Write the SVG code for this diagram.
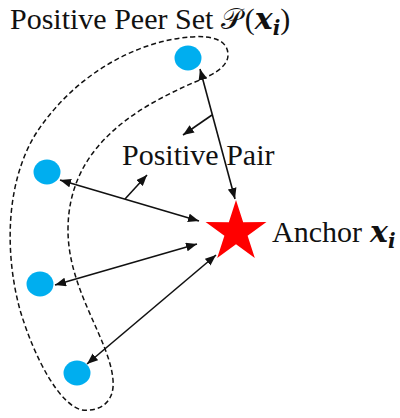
<svg xmlns="http://www.w3.org/2000/svg" width="400" height="418" viewBox="0 0 400 418">
<style>
  .t { font-family: "Liberation Serif", "Times New Roman", serif; font-size: 30px; fill: #111; }
  .bi { font-family: "DejaVu Serif", serif; font-weight: bold; font-style: italic; }
  .dot { fill: #00AEEF; }
  .arr { stroke: #111; stroke-width: 1.6; fill: none; }
</style>
<defs>
  <marker id="ah" viewBox="0 0 10 8" refX="10" refY="4" markerWidth="11" markerHeight="9" markerUnits="userSpaceOnUse" orient="auto-start-reverse">
    <path d="M0,0 L10,4 L0,8 z" fill="#111"/>
  </marker>
</defs>
<rect width="400" height="418" fill="#fff"/>
<g id="peer-set">
  <path d="M 190,37 C 212,35 228,40 228,55 C 228,68 210,76 195,82 C 130,110 68,150 68,230 C 68,290 110,340 113,380 C 115,402 100,412 82,410 C 60,405 35,360 20,310 C 5,255 5,185 35,135 C 70,80 130,42 190,37 Z" fill="none" stroke="#111" stroke-width="1.5" stroke-dasharray="5,3"/>
</g>
<g id="connectors">
  <line class="arr" x1="200" y1="69" x2="235" y2="199" marker-start="url(#ah)" marker-end="url(#ah)"/>
  <line class="arr" x1="60" y1="180" x2="199" y2="221" marker-start="url(#ah)" marker-end="url(#ah)"/>
  <line class="arr" x1="55" y1="285" x2="197" y2="244" marker-start="url(#ah)" marker-end="url(#ah)"/>
  <line class="arr" x1="87" y1="364" x2="216" y2="255" marker-start="url(#ah)" marker-end="url(#ah)"/>
  <line class="arr" x1="212" y1="115" x2="183" y2="135" marker-end="url(#ah)"/>
  <line class="arr" x1="125" y1="199" x2="147" y2="175" marker-end="url(#ah)"/>
</g>
<g id="peer1"><ellipse class="dot" cx="188" cy="58" rx="13.5" ry="12.5"/></g>
<g id="peer2"><ellipse class="dot" cx="47" cy="172" rx="13.5" ry="12.5"/></g>
<g id="peer3"><ellipse class="dot" cx="40" cy="284" rx="13.5" ry="12.5"/></g>
<g id="peer4"><ellipse class="dot" cx="77" cy="373" rx="13.5" ry="12.5"/></g>
<g id="anchor">
  <polygon points="236,200 243.17,222.13 266.43,222.11 247.6,235.77 254.81,257.89 236,244.2 217.19,257.89 224.4,235.77 205.57,222.11 228.83,222.13" fill="#FF0000"/>
  <text class="t" x="272" y="242">Anchor<tspan class="bi" dx="8">x</tspan><tspan class="bi" font-size="20" dy="6">i</tspan></text>
</g>
<g id="labels">
  <text class="t" x="10" y="29">Positive Peer Set <tspan font-family="DejaVu Serif, DejaVu Sans, serif" font-size="29">𝒫</tspan><tspan dx="3">(</tspan><tspan class="bi">x</tspan><tspan class="bi" font-size="20" dy="6">i</tspan><tspan dy="-6">)</tspan></text>
  <text class="t" x="122" y="165">Positive Pair</text>
</g>
</svg>
